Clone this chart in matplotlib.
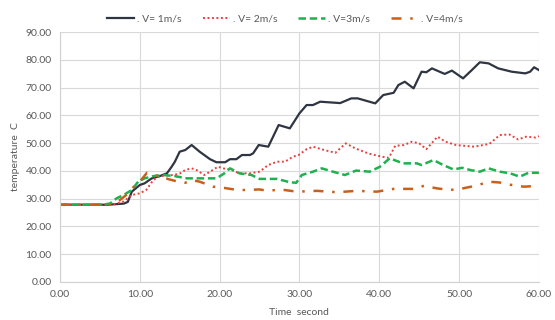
import matplotlib.pyplot as plt

plt.rcParams['font.family'] = ['Lato', 'DejaVu Sans']

# V = 1 m/s
t1 = [0, 6, 8, 8.5, 9, 10, 10.6, 11.5, 12.5, 13.4, 14, 14.4, 15, 15.7, 16.5, 17.5,
      18.8, 19.6, 20.7, 21.3, 22.1, 22.8, 23.8, 24.2, 24.9, 26.1, 27.4, 28.8, 30.0,
      30.9, 31.7, 32.6, 35.1, 36.5, 37.3, 39.5, 40.5, 41.8, 42.4, 43.2, 44.3, 45.3,
      45.9, 46.6, 48.2, 49.1, 50.5, 51.6, 52.6, 53.7, 54.9, 56.6, 58.3, 58.9, 59.4, 60]
v1 = [27.8, 27.8, 28.2, 28.8, 32.5, 34.9, 35.5, 37.3, 38.1, 39.1, 41.5, 43.3, 46.9,
      47.5, 49.3, 46.9, 44.2, 43.1, 43.1, 44.2, 44.2, 45.7, 45.7, 46.3, 49.3, 48.7,
      56.5, 55.3, 60.7, 63.7, 63.7, 64.9, 64.4, 66.1, 66.1, 64.3, 67.3, 68.1, 70.9,
      72.1, 69.7, 75.7, 75.5, 76.9, 74.9, 76.1, 73.3, 76.3, 79.1, 78.7, 76.9, 75.7,
      75.1, 75.7, 77.3, 76.3]

# V = 2 m/s
t2 = [0, 6.5, 8, 9, 10, 10.8, 11.7, 12.5, 14.2, 15, 15.7, 16.5, 17.1, 18.1, 18.8,
      19.8, 20.4, 21.3, 22.5, 23.8, 25, 26.1, 27.2, 28.2, 29.2, 29.9, 30.9, 31.7,
      33.1, 34.5, 35.8, 37, 38.6, 40.3, 41.2, 42, 43.1, 44.1, 45, 45.9, 47.3, 48.3,
      49.6, 51.9, 53.8, 55.1, 56.3, 57.4, 58.4, 59.6, 60]
v2 = [27.8, 27.8, 29.0, 31.3, 31.9, 33.1, 36.7, 38.1, 38.5, 39.0, 40.3, 40.9, 40.3,
      38.5, 39.7, 41.5, 40.9, 40.5, 39.1, 39.1, 39.7, 42.1, 43.3, 43.3, 45.1, 45.7,
      47.8, 48.7, 47.5, 46.5, 49.9, 48.1, 46.3, 45.1, 44.7, 49.0, 49.3, 50.5, 49.9,
      47.8, 52.3, 50.5, 49.3, 48.7, 49.7, 52.9, 53.1, 51.3, 52.3, 52.0, 52.5]

# V = 3 m/s
t3 = [0, 5.5, 6.3, 7.1, 8.1, 9, 9.8, 10.6, 11.7, 13, 14.4, 15.9, 17.5, 19.6, 20.5,
      21.3, 22.5, 24, 25, 27.2, 28.8, 29.6, 30.3, 31.7, 32.8, 34.2, 35.7, 37.1, 38.8,
      40.1, 41.3, 43, 44.7, 45.3, 46.8, 48, 49.3, 50.4, 51.4, 52.6, 53.7, 55.1, 56.4,
      57.6, 58.7, 60]
v3 = [27.8, 27.8, 28.3, 30.1, 31.5, 33.1, 36.1, 37.3, 38.1, 38.5, 38.1, 37.3, 37.3,
      37.3, 38.9, 40.9, 39.1, 38.5, 37.1, 37.1, 35.9, 35.7, 38.5, 39.7, 40.9, 39.7,
      38.5, 40.1, 39.7, 41.5, 44.5, 42.7, 42.7, 42.1, 43.9, 42.1, 40.5, 41.1, 40.3,
      39.7, 40.9, 39.7, 39.1, 37.9, 39.3, 39.3]

# V = 4 m/s
t4 = [0, 6.5, 7.3, 8.3, 9.2, 10, 10.9, 11.5, 12.5, 13.6, 14.8, 15.7, 16.5, 17.5,
      19.2, 20, 21.8, 23, 25, 26.1, 27.6, 29.7, 32.2, 34.7, 37.2, 39.7, 41.8, 44.3,
      45.6, 47.2, 48.9, 50.5, 52.2, 53.7, 55.1, 56.4, 58.1, 60]
v4 = [27.8, 27.8, 29.0, 31.3, 34.1, 36.1, 39.3, 38.5, 38.1, 37.0, 36.1, 35.7, 36.7,
      36.1, 34.3, 34.1, 33.3, 33.1, 33.3, 32.8, 33.3, 32.5, 32.8, 32.3, 32.8, 32.5,
      33.5, 33.5, 34.6, 33.7, 33.1, 33.7, 34.7, 36.1, 35.8, 35.0, 34.3, 34.6]

labels = ['. V= 1m/s', '. V= 2m/s', '. V=3m/s', '. V=4m/s']
grey = '#595959'

fig = plt.figure(figsize=(5.55, 3.2), dpi=100)
ax = fig.add_axes([0.108, 0.119, 0.863, 0.781])

ax.plot(t1, v1, color='#2f3542', lw=1.6, label=labels[0])
ax.plot(t2, v2, color='#e8403f', lw=1.4, ls=(0, (1, 1.3)), label=labels[1])
ax.plot(t3, v3, color='#1fb04f', lw=1.8, ls=(0, (3, 1.5)), label=labels[2])
ax.plot(t4, v4, color='#c8601c', lw=1.8, ls=(0, (4, 3.5, 1, 3.5)), label=labels[3])

ax.set_xlim(0, 60)
ax.set_ylim(0, 90)
ax.set_xticks(range(0, 61, 10))
ax.set_yticks(range(0, 91, 10))
ax.set_xticklabels([f'{v:.2f}' for v in range(0, 61, 10)])
ax.set_yticklabels([f'{v:.2f}' for v in range(0, 91, 10)])
ax.tick_params(labelsize=7.5, colors=grey, length=0, pad=6)
ax.grid(True, color='#d9d9d9', lw=0.8)
ax.set_axisbelow(True)
for s in ['top', 'right']:
    ax.spines[s].set_visible(False)
for s in ['left', 'bottom']:
    ax.spines[s].set_color('#d0d0d0')

ax.set_xlabel('Time  second', fontsize=7.5, color=grey, labelpad=6)
ax.set_ylabel('temperature  C', fontsize=7.5, color=grey, labelpad=4)

ax.legend(loc='lower center', bbox_to_anchor=(0.47, 1.01), ncol=4, frameon=False,
          fontsize=7.5, labelcolor=grey, handlelength=2.6, columnspacing=2.0,
          handletextpad=0.3, borderaxespad=0.2)

fig.savefig('out.png', dpi=100)
